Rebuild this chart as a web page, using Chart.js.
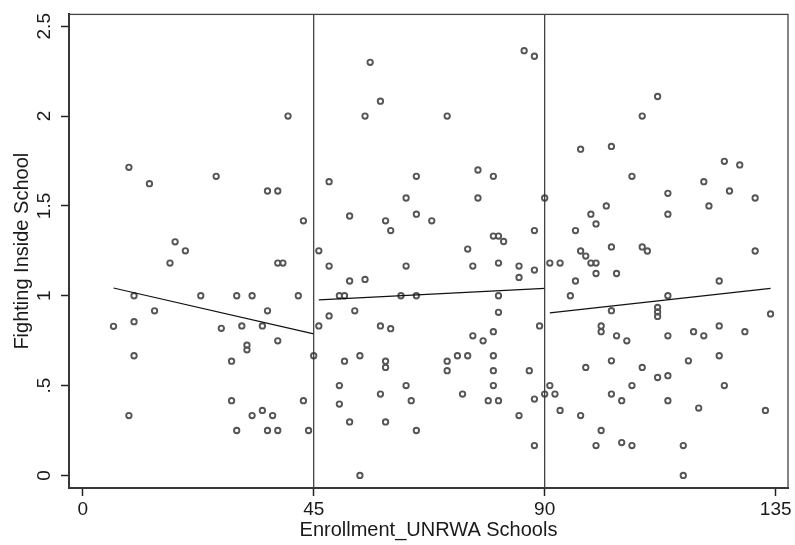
<!DOCTYPE html>
<html>
<head>
<meta charset="utf-8">
<script src="https://cdn.jsdelivr.net/npm/chart.js@4.4.1/dist/chart.umd.min.js"></script>
<style>
  html, body { margin: 0; padding: 0; background: #fff; }
</style>
</head>
<body>
<canvas id="scatter" width="795" height="545"></canvas>
<script>
// enrollment (x) and fighting (y), grouped by segment
const enrollment = [
  6, 9, 9, 10, 10, 10, 13, 14, 17, 18,
  20, 23, 26, 27, 29, 29, 30, 30, 31, 32,
  32, 33, 33, 35, 35, 36, 36, 36, 37, 38,
  38, 39, 38, 38, 40, 42, 43, 43, 44, 45,
  46, 46, 48, 48, 48, 50, 51, 50, 50, 51,
  52, 52, 52, 53, 54, 54, 55, 55, 56, 58,
  58, 58, 59, 59, 59, 59, 60, 60, 62, 63,
  63, 63, 64, 65, 65, 65, 65, 68, 71, 71,
  71, 73, 74, 75, 75, 76, 76, 77, 77, 78,
  79, 80, 80, 80, 80, 80, 80, 81, 81, 81,
  81, 81, 82, 85, 85, 85, 86, 87, 88, 88,
  88, 88, 88, 89, 90, 90,
  91, 91, 92, 93, 93, 95, 96, 96, 97, 97,
  97, 98, 98, 99, 99, 100, 100, 100, 100, 101,
  101, 101, 102, 103, 103, 103, 103, 103, 104, 104,
  105, 105, 106, 107, 107, 107, 109, 109, 109, 110,
  112, 112, 112, 112, 112, 114, 114, 114, 114, 114,
  114, 117, 117, 118, 119, 120, 121, 121, 122, 124,
  124, 124, 125, 125, 126, 128, 129, 131, 131, 133,
  134
];
const fighting = [
  0.83, 1.715, 0.333, 1.0, 0.856, 0.666, 1.624, 0.916, 1.182, 1.30,
  1.25, 1.0, 1.665, 0.819, 0.636, 0.416, 1.0, 0.25, 0.832, 0.725,
  0.699, 1.0, 0.333, 0.832, 0.362, 1.583, 0.916, 0.25, 0.333, 1.583,
  1.182, 1.182, 0.749, 0.25, 2.0, 1.0, 1.417, 0.416, 0.25, 0.666,
  1.25, 0.832, 1.635, 1.165, 0.888, 1.0, 1.0, 0.5, 0.397, 0.636,
  1.444, 1.082, 0.298, 0.916, 0.666, 0.0, 2.0, 1.091, 2.299, 2.083,
  0.832, 0.453, 1.417, 0.636, 0.601, 0.298, 1.363, 0.817, 1.0, 1.544,
  1.165, 0.5, 0.416, 1.665, 1.454, 1.0, 0.25, 1.417, 2.0, 0.636,
  0.583, 0.666, 0.453, 1.26, 0.666, 1.165, 0.777, 1.70, 1.544, 0.749,
  0.416, 1.665, 1.332, 0.80, 0.666, 0.583, 0.5, 1.332, 1.182, 1.0,
  0.908, 0.416, 1.302, 1.165, 1.102, 0.333, 2.364, 0.583, 2.333, 1.363,
  1.143, 0.425, 0.166, 0.832, 1.544, 0.453,
  1.182, 0.5, 0.453, 1.182, 0.362, 1.0, 1.363, 1.082, 1.816, 1.249,
  0.333, 1.221, 0.601, 1.454, 1.182, 1.40, 1.182, 1.124, 0.166, 0.832,
  0.80, 0.25, 1.50, 1.831, 1.272, 0.917, 0.638, 0.453, 1.124, 0.777,
  0.416, 0.183, 0.749, 1.665, 0.5, 0.166, 2.0, 1.272, 0.601, 1.249,
  2.109, 0.935, 0.91, 0.885, 0.545, 1.570, 1.454, 1.0, 0.777, 0.555,
  0.416, 0.166, 0.0, 0.638, 0.80, 0.375, 1.635, 0.777, 1.50, 1.082,
  0.832, 0.666, 1.748, 0.5, 1.583, 1.728, 0.80, 1.544, 1.249, 0.362,
  0.899
];

// fitted lines per segment: [start, end]
const fitX = [[6, 45], [46, 90], [91, 134]];
const fitY = [[1.043, 0.788], [0.977, 1.041], [0.905, 1.041]];

const cutoffs = [45, 90];
const xTicks = [0, 45, 90, 135];
const yTicks = [0, 0.5, 1, 1.5, 2, 2.5];
const yTickLabels = ['0', '.5', '1', '1.5', '2', '2.5'];

const xMin = -2.67, xMax = 137.4;
const yMin = -0.07, yMax = 2.566;

const points = enrollment.map((x, i) => ({ x: x, y: fighting[i] }));

const datasets = [];
cutoffs.forEach(c => {
  datasets.push({
    type: 'line',
    data: [{ x: c, y: yMin }, { x: c, y: yMax }],
    borderColor: '#333',
    borderWidth: 1.2,
    pointRadius: 0
  });
});
fitX.forEach((xs, i) => {
  datasets.push({
    type: 'line',
    data: xs.map((x, j) => ({ x: x, y: fitY[i][j] })),
    borderColor: '#111',
    borderWidth: 1.2,
    pointRadius: 0
  });
});
datasets.push({
  type: 'scatter',
  data: points,
  pointStyle: 'circle',
  pointRadius: 2.7,
  borderWidth: 1.9,
  borderColor: '#555',
  backgroundColor: 'rgba(0,0,0,0)'
});

// box around the plot region
const frame = {
  id: 'frame',
  afterDatasetsDraw(chart) {
    const a = chart.chartArea;
    const ctx = chart.ctx;
    ctx.save();
    ctx.strokeStyle = '#444';
    ctx.lineWidth = 1.3;
    ctx.strokeRect(a.left, a.top, a.right - a.left, a.bottom - a.top);
    ctx.restore();
  }
};

const tickFont = { family: '"Liberation Sans", Arial, sans-serif', size: 19 };
const titleFont = { family: '"Liberation Sans", Arial, sans-serif', size: 20 };

new Chart(document.getElementById('scatter'), {
  type: 'scatter',
  data: { datasets: datasets },
  options: {
    responsive: false,
    animation: false,
    events: [],
    layout: { padding: { top: 13, right: 7, left: 0, bottom: 0 } },
    plugins: { legend: { display: false }, tooltip: { enabled: false } },
    scales: {
      x: {
        type: 'linear',
        min: xMin,
        max: xMax,
        afterBuildTicks: s => { s.ticks = xTicks.map(v => ({ value: v })); },
        afterFit: s => { s.height = 57; },
        ticks: { font: tickFont, color: '#1a1a1a', padding: 2, maxRotation: 0 },
        grid: { drawOnChartArea: false, drawTicks: true, tickLength: 8, tickColor: '#222', tickWidth: 1.5 },
        border: { display: true, color: '#222', width: 2 },
        title: { display: true, text: 'Enrollment_UNRWA Schools', font: titleFont, color: '#1a1a1a', padding: { top: 0, bottom: 3 } }
      },
      y: {
        type: 'linear',
        min: yMin,
        max: yMax,
        afterBuildTicks: s => { s.ticks = yTicks.map(v => ({ value: v })); },
        afterFit: s => { s.width = 69; },
        ticks: {
          font: tickFont,
          color: '#1a1a1a',
          padding: 3,
          minRotation: 90,
          maxRotation: 90,
          crossAlign: 'center',
          callback: v => yTickLabels[yTicks.indexOf(v)]
        },
        grid: { drawOnChartArea: false, drawTicks: true, tickLength: 8, tickColor: '#222', tickWidth: 1.5 },
        border: { display: true, color: '#222', width: 2 },
        title: { display: true, text: 'Fighting Inside School', font: titleFont, color: '#1a1a1a', padding: { top: 10, bottom: 0 } }
      }
    }
  },
  plugins: [frame]
});
</script>
</body>
</html>
